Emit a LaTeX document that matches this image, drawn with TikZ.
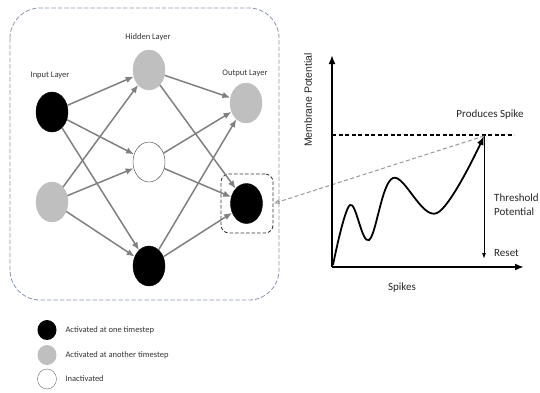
\documentclass[tikz,border=0pt]{standalone}
\usepackage{fontspec}
\setmainfont{Carlito}
\newfontfamily\axisfont{Liberation Sans}
\usetikzlibrary{shapes.geometric,arrows.meta,calc}
\definecolor{lightNeuron}{HTML}{BFBFBF}
\definecolor{synapseGray}{HTML}{808080}
\definecolor{frameBlue}{HTML}{8A96AE}

\begin{document}
\begin{tikzpicture}[x=1pt,y=-1pt]
  \tikzstyle{neuron} = [ellipse, minimum width=32pt, minimum height=40pt, inner sep=0pt];
  \tikzstyle{fired} = [neuron, draw=black, fill=black];
  \tikzstyle{firedLater} = [neuron, draw=lightNeuron, fill=lightNeuron];
  \tikzstyle{silent} = [neuron, draw=black!75, fill=white, thin];
  \tikzstyle{legendDot} = [ellipse, minimum width=19pt, minimum height=20pt, inner sep=0pt];
  \tikzstyle{smallText} = [font={\fontsize{8.5}{10}\selectfont}, text=black!80];
  \tikzstyle{chartText} = [font={\fontsize{11}{14}\selectfont}, text=black!85];
  \tikzstyle{synapse} = [synapseGray, line width=1.5pt, -{Latex[length=8pt,width=6.5pt]}];
  \tikzstyle{axis} = [line width=2.4pt, -{Latex[length=9pt,width=7pt]}];
  \tikzstyle{potential} = [line width=1.8pt, -{Latex[length=9pt,width=7pt]}];
  \tikzstyle{threshold} = [line width=1.3pt, dash pattern=on 4pt off 2.5pt];
  \tikzstyle{pointer} = [black!40, line width=1pt, dash pattern=on 4pt off 2.5pt, -{Latex[length=6pt,width=5pt,open]}];

  \useasboundingbox (0,0) rectangle (540,392);
  \clip (0,0) rectangle (540,392);

  % network frame
  \draw[frameBlue, line width=0.8pt, dash pattern=on 4.5pt off 2pt, rounded corners=30pt] (10,8) rectangle (279,300);

  \node[smallText, name=inLabel] at (50,75) {Input Layer};
  \node[smallText, name=hidLabel] at (148,37) {Hidden Layer};
  \node[smallText, name=outLabel] at (245,73) {Output Layer};

  \node[fired, name=in1] at (52,112) {};
  \node[firedLater, name=in2] at (52,202) {};
  \node[firedLater, name=hid1] at (149,70) {};
  \node[silent, name=hid2] at (149,162) {};
  \node[fired, name=hid3] at (149,266) {};
  \node[firedLater, name=out1] at (246,103) {};
  \node[fired, name=out2] at (246.5,203.5) {};
  \node[draw=black!80, line width=0.8pt, dash pattern=on 3.5pt off 2pt, rounded corners=8pt,
        minimum width=52pt, minimum height=59pt, name=outFocus] at (247,203.5) {};

  \draw (in1) edge[synapse] (hid1);
  \draw (in1) edge[synapse] (hid2);
  \draw (in1) edge[synapse] (hid3);
  \draw (in2) edge[synapse] (hid1);
  \draw (in2) edge[synapse] (hid2);
  \draw (in2) edge[synapse] (hid3);
  \draw (hid1) edge[synapse] (out1);
  \draw (hid1) edge[synapse] (out2);
  \draw (hid2) edge[synapse] (out1);
  \draw (hid2) edge[synapse] (out2);
  \draw (hid3) edge[synapse] (out1);
  \draw (hid3) edge[synapse] (out2);

  % membrane potential chart
  \coordinate (origin) at (332,267);
  \coordinate (yTop) at (332,55);
  \coordinate (xEnd) at (524,267);
  \coordinate (spikePeak) at (484,136);
  \coordinate (thrStart) at (332,135);
  \coordinate (thrEnd) at (514,135);
  \coordinate (resetPt) at (484,259);

  \draw[threshold] (thrStart) -- (thrEnd);
  \draw[pointer] (spikePeak) -- (outFocus.east);
  \draw[line width=1pt, -{Latex[length=6pt,width=4pt]}] (spikePeak) -- (resetPt);
  \draw[potential] plot[smooth, tension=0.6] coordinates {(333,265) (350,205) (369,240) (393,178) (437,213) (spikePeak)};
  \draw[axis] (origin) -- (yTop);
  \draw[axis] (origin) -- (xEnd);

  \node[font={\axisfont\fontsize{10.5}{12}\selectfont}, text=black!85, rotate=90, name=yLabel] at (308,100) {Membrane Potential};
  \node[chartText, name=xLabel] at (402,288) {Spikes};
  \node[chartText, name=spikeLabel] at (490,115) {Produces Spike};
  \node[chartText, anchor=west, align=left, inner sep=1pt, name=thrLabel] at (493,205) {Threshold\\Potential};
  \node[chartText, anchor=west, inner sep=1pt, name=resetLabel] at (493,253) {Reset};

  % legend
  \node[legendDot, fill=black, name=legFired] at (47,330) {};
  \node[legendDot, fill=lightNeuron, name=legLater] at (47,355) {};
  \node[legendDot, draw=black!60, fill=white, name=legSilent] at (47,379) {};
  \node[smallText, anchor=west, name=legFiredText] at (62,330) {Activated at one timestep};
  \node[smallText, anchor=west, name=legLaterText] at (62,355) {Activated at another timestep};
  \node[smallText, anchor=west, name=legSilentText] at (62,379) {Inactivated};
\end{tikzpicture}
\end{document}
